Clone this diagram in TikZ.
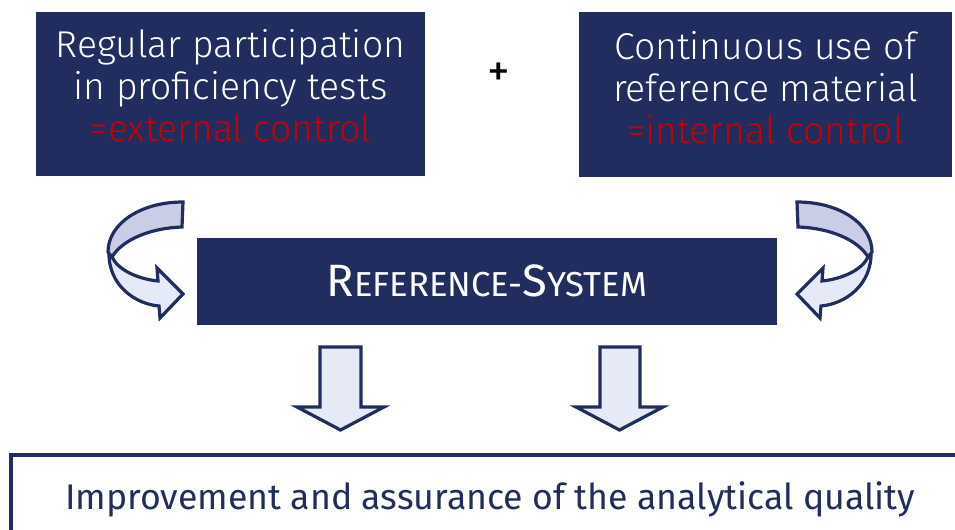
\documentclass[tikz,border=0pt]{standalone}
\usepackage{fontspec}
\setmainfont{Fira Sans Light}
\newfontfamily\regfont{Fira Sans}

\definecolor{navy}{RGB}{32,45,94}
\definecolor{ctrlred}{RGB}{200,0,0}
\definecolor{ribbondark}{RGB}{201,206,230}
\definecolor{ribbonlight}{RGB}{230,234,247}

\tikzset{
  navybox/.style={fill=navy, draw=none, inner sep=0pt},
  boxtext/.style={text=white, align=center, inner sep=0pt, font=\fontsize{28}{31.5}\selectfont},
  hollow/.style={draw=navy, line width=2.4pt, line join=miter, fill=ribbonlight},
}

\begin{document}
\begin{tikzpicture}[x=0.75pt,y=0.75pt,yscale=-1,xscale=1]
\useasboundingbox (0,0) rectangle (955,529);

% top boxes
\node[navybox, minimum width=291.75pt, minimum height=123pt] (ptbox) at (230.5,94) {};
\node[boxtext] (pttext) at (230.5,86) {Regular participation\\in proficiency tests\\\textcolor{ctrlred}{=external control}};

\node[navybox, minimum width=279.75pt, minimum height=123.75pt] (rmbox) at (765.5,94.5) {};
\node[boxtext] (rmtext) at (765.5,87.5) {Continuous use of\\reference material\\\textcolor{ctrlred}{=internal control}};

\node[font=\regfont\fontsize{34}{34}\selectfont] (plus) at (499,75) {+};

% reference system
\node[navybox, minimum width=435pt, minimum height=65.25pt] (refsys) at (487,281.5) {};
\node[boxtext, font=\regfont] (reftext) at (487,281) {\fontsize{34}{34}\selectfont R\fontsize{26}{26}\selectfont EFERENCE-\fontsize{34}{34}\selectfont S\fontsize{26}{26}\selectfont YSTEM};

% curved arrows
\draw[hollow] (109,252) .. controls (108,285) and (135,304) .. (159,306) -- (160,318) -- (183,294) -- (157,268) -- (158,281) .. controls (138,279) and (118,270) .. (112,257) -- cycle;
\draw[hollow, fill=ribbondark] (183,202) .. controls (140,202) and (108,224) .. (108,252) -- (112,257) .. controls (122,240) and (150,228) .. (182,227) -- cycle;

\begin{scope}[shift={(980,0)}, xscale=-1]
\draw[hollow] (109,252) .. controls (108,285) and (135,304) .. (159,306) -- (160,318) -- (183,294) -- (157,268) -- (158,281) .. controls (138,279) and (118,270) .. (112,257) -- cycle;
\draw[hollow, fill=ribbondark] (183,202) .. controls (140,202) and (108,224) .. (108,252) -- (112,257) .. controls (122,240) and (150,228) .. (182,227) -- cycle;
\end{scope}

% down arrows
\draw[hollow] (320,347) -- (361,347) -- (361,407) -- (384,407) -- (340.5,430) -- (297,407) -- (320,407) -- cycle;
\draw[hollow] (600,347) -- (640,347) -- (640,407) -- (663,407) -- (619.5,430) -- (576,407) -- (600,407) -- cycle;

% bottom frame
\draw[navy, line width=3pt] (957,455) -- (11,455) -- (11,531);
\node[text=navy, font=\regfont\fontsize{26.75}{26.75}\selectfont] (quality) at (490,499) {Improvement and assurance of the analytical quality};

\end{tikzpicture}
\end{document}
